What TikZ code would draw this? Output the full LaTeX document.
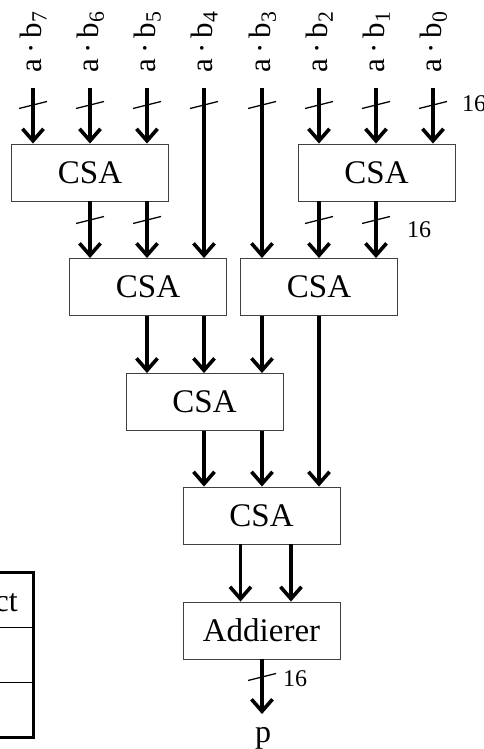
\documentclass[tikz,border=0pt]{standalone}
\usepackage{fontspec}
\setmainfont{Liberation Serif}
\usetikzlibrary{arrows.meta}

\tikzset{
  block/.style={draw=black!75, line width=0.9pt, minimum width=157pt, minimum height=57pt, inner sep=0pt, font=\fontsize{33}{36}\selectfont},
  bus/.style={line width=3.6pt, -{Straight Barb[length=12pt,width=21pt]}},
  tick/.style={line width=1.3pt},
  bitlabel/.style={rotate=90, anchor=base west, inner sep=0pt, font=\fontsize{31}{34}\selectfont},
  width/.style={anchor=west, inner sep=0pt, font=\fontsize{24}{26}\selectfont}
}

\begin{document}
\begin{tikzpicture}[x=1pt, y=-1pt]
\useasboundingbox (0,0) rectangle (483,749);

% partial product inputs
\coordinate (in7) at (33,88);
\coordinate (in6) at (90,88);
\coordinate (in5) at (147,88);
\coordinate (in4) at (204,88);
\coordinate (in3) at (262,88);
\coordinate (in2) at (319,88);
\coordinate (in1) at (376,88);
\coordinate (in0) at (433,88);
\node (l7) [bitlabel] at (41,73) {a\,·\,b\textsubscript{7}};
\node (l6) [bitlabel] at (98,73) {a\,·\,b\textsubscript{6}};
\node (l5) [bitlabel] at (155,73) {a\,·\,b\textsubscript{5}};
\node (l4) [bitlabel] at (212,73) {a\,·\,b\textsubscript{4}};
\node (l3) [bitlabel] at (270,73) {a\,·\,b\textsubscript{3}};
\node (l2) [bitlabel] at (327,73) {a\,·\,b\textsubscript{2}};
\node (l1) [bitlabel] at (384,73) {a\,·\,b\textsubscript{1}};
\node (l0) [bitlabel] at (441,73) {a\,·\,b\textsubscript{0}};

% adder tree
\node (csa1) [block] at (90,172.5) {CSA};
\node (csa2) [block] at (376.5,172.5) {CSA};
\node (csa3) [block] at (148,287) {CSA};
\node (csa4) [block] at (319,287) {CSA};
\node (csa5) [block] at (204.5,402) {CSA};
\node (csa6) [block] at (261.5,515.5) {CSA};
\node (add) [block] at (261.5,630.5) {Addierer};
\coordinate (out) at (262,714);
\node (p) [anchor=base, inner sep=0pt, font=\fontsize{32}{36}\selectfont] at (263,742) {p};

\draw[bus] (in7) -- (csa1.north -| in7);
\draw[bus] (in6) -- (csa1.north -| in6);
\draw[bus] (in5) -- (csa1.north -| in5);
\draw[bus] (in4) -- (csa3.north -| in4);
\draw[bus] (in3) -- (csa4.north -| in3);
\draw[bus] (in2) -- (csa2.north -| in2);
\draw[bus] (in1) -- (csa2.north -| in1);
\draw[bus] (in0) -- (csa2.north -| in0);

\draw[bus] (csa1.south -| in6) -- (csa3.north -| in6);
\draw[bus] (csa1.south -| in5) -- (csa3.north -| in5);
\draw[bus] (csa2.south -| in2) -- (csa4.north -| in2);
\draw[bus] (csa2.south -| in1) -- (csa4.north -| in1);

\draw[bus] (csa3.south -| in5) -- (csa5.north -| in5);
\draw[bus] (csa3.south -| in4) -- (csa5.north -| in4);
\draw[bus] (csa4.south -| in3) -- (csa5.north -| in3);
\draw[bus] (csa4.south -| in2) -- (csa6.north -| in2);

\draw[bus] (csa5.south -| in4) -- (csa6.north -| in4);
\draw[bus] (csa5.south -| in3) -- (csa6.north -| in3);

\draw[bus] ([xshift=-21pt]csa6.south) -- ([xshift=-21pt]add.north);
\draw[bus] ([xshift=29.5pt]csa6.south) -- ([xshift=29.5pt]add.north);
\draw[bus] (add.south -| out) -- (out);

% bus width marks
\draw[tick] (33,105) +(-14,3.5) -- +(14,-3.5);
\draw[tick] (90,105) +(-14,3.5) -- +(14,-3.5);
\draw[tick] (147,105) +(-14,3.5) -- +(14,-3.5);
\draw[tick] (204,105) +(-14,3.5) -- +(14,-3.5);
\draw[tick] (262,105) +(-14,3.5) -- +(14,-3.5);
\draw[tick] (319,105) +(-14,3.5) -- +(14,-3.5);
\draw[tick] (376,105) +(-14,3.5) -- +(14,-3.5);
\draw[tick] (433,105) +(-14,3.5) -- +(14,-3.5);
\draw[tick] (90,220) +(-14,3.5) -- +(14,-3.5);
\draw[tick] (147,220) +(-14,3.5) -- +(14,-3.5);
\draw[tick] (319,220) +(-14,3.5) -- +(14,-3.5);
\draw[tick] (376,220) +(-14,3.5) -- +(14,-3.5);
\draw[tick] (262,677) +(-14,3.5) -- +(14,-3.5);
\node (w1) [width] at (462,104) {16};
\node (w2) [width] at (407,229.5) {16};
\node (w3) [width] at (283,679) {16};

% table cut off at the left edge
\draw[line width=0.8pt] (-20,627) -- (33,627);
\draw[line width=0.8pt] (-20,682) -- (33,682);
\draw[line width=3pt] (-20,572) -- (33,572) -- (33,737) -- (-20,737);
\node (ct) [anchor=base east, inner sep=0pt, font=\fontsize{32}{36}\selectfont] at (18,611) {ct};
\end{tikzpicture}
\end{document}
